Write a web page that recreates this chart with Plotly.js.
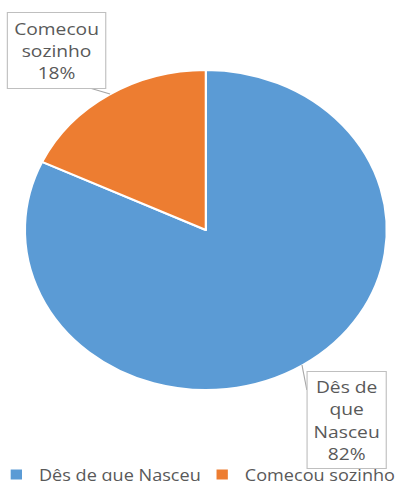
<!DOCTYPE html>
<html>
<head>
<meta charset="utf-8">
<script src="https://cdn.plot.ly/plotly-3.0.1.min.js"></script>
<style>
html,body{margin:0;padding:0;overflow:hidden;background:#fff;width:400px;height:481px;}
#wrap{width:400px;height:481px;overflow:hidden;position:relative;}
#chart{width:370px;height:481px;transform:scaleX(1.131);transform-origin:0 0;}
</style>
</head>
<body>
<div id="wrap"><div id="chart"></div></div>
<script>
// Data
const categories = ["Dês de que Nasceu", "Comecou sozinho"];
const values = [82, 18];
const labelTexts = ["Dês de<br>que<br>Nasceu<br>82%", "Comecou<br>sozinho<br>18%"];
const colors = ["#5B9BD5", "#ED7D31"];

const trace = {
  type: "pie",
  labels: categories,
  values: values,
  sort: false,
  direction: "clockwise",
  rotation: 0,
  textinfo: "none",
  hoverinfo: "label+percent",
  marker: {colors: colors, line: {color: "#ffffff", width: 2}},
  domain: {x: [22/370, 342/370], y: [1 - 390/481, 1 - 70/481]}
};

const W = 370, H = 481;
function px(x){return x / W;}
function py(y){return 1 - y / H;}

const annFont = {family: "Open Sans, sans-serif", size: 17, color: "#595959"};
const annotations = [
  {
    xref: "paper", yref: "paper", xanchor: "center", yanchor: "middle",
    x: px(49.5), y: py(50),
    text: labelTexts[1], showarrow: false,
    bordercolor: "#bfbfbf", borderwidth: 1, bgcolor: "#ffffff",
    width: 84, height: 73, font: annFont, align: "center"
  },
  {
    xref: "paper", yref: "paper", xanchor: "center", yanchor: "middle",
    x: px(306), y: py(420),
    text: labelTexts[0], showarrow: false,
    bordercolor: "#bfbfbf", borderwidth: 1, bgcolor: "#ffffff",
    width: 67, height: 94, font: annFont, align: "center"
  }
];

const leaderLine = {color: "#a6a6a6", width: 1};
const shapes = [
  {type: "line", xref: "paper", yref: "paper", x0: px(77.8), y0: py(87.5), x1: px(97.3), y1: py(94), line: leaderLine},
  {type: "line", xref: "paper", yref: "paper", x0: px(267), y0: py(365), x1: px(271.3), y1: py(390), line: leaderLine}
];

const layout = {
  width: W, height: H,
  margin: {l: 0, r: 0, t: 0, b: 0, autoexpand: false},
  paper_bgcolor: "#ffffff",
  showlegend: true,
  legend: {
    orientation: "h", x: -0.015, xanchor: "left", y: -0.022, yanchor: "bottom",
    font: {family: "Open Sans, sans-serif", size: 16, color: "#595959"},
    entrywidth: 137, entrywidthmode: "pixels",
    traceorder: "normal"
  },
  shapes: shapes,
  annotations: annotations
};

Plotly.newPlot("chart", [trace], layout, {displayModeBar: false, staticPlot: true});
</script>
</body>
</html>
